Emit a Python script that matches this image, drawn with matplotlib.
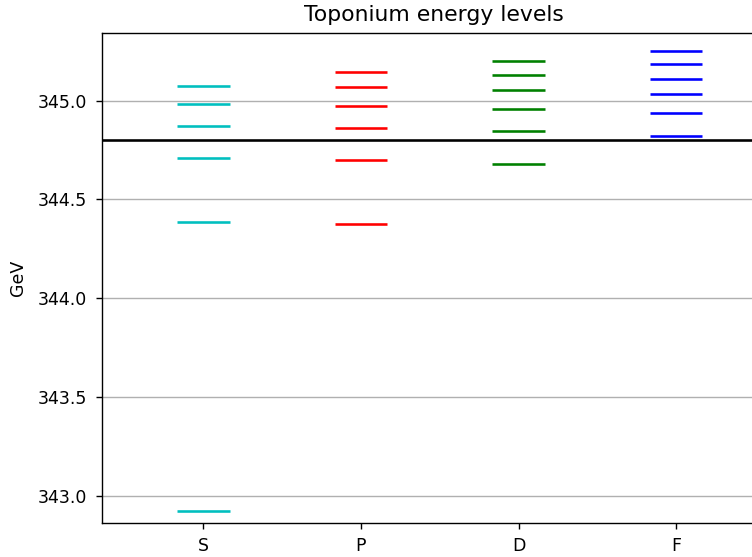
import matplotlib
matplotlib.use('Agg')
import matplotlib.pyplot as plt

# Toponium levels (GeV)
waves = ['S', 'P', 'D', 'F']
colors = ['c', 'r', 'g', 'b']
levels_S = [342.924, 344.384, 344.708, 344.870, 344.985, 345.076]
levels_P = [344.374, 344.700, 344.862, 344.975, 345.068, 345.147]
levels_D = [344.681, 344.845, 344.959, 345.053, 345.132, 345.203]
levels_F = [344.823, 344.939, 345.032, 345.111, 345.186, 345.252]
threshold = 344.801

levels = [levels_S, levels_P, levels_D, levels_F]

dpi = 125
fig = plt.figure(figsize=(752 / dpi, 557 / dpi), dpi=dpi)
ax = fig.add_axes([102 / 752, 1 - 523.3 / 557, (766 - 102) / 752, (523.3 - 32.7) / 557])

for i, (lv, c) in enumerate(zip(levels, colors)):
    ax.hlines(lv, i - 1 / 6, i + 1 / 6, colors=c, lw=1.5, zorder=3)

ax.axhline(threshold, color='k', lw=1.5, zorder=4)

ax.set_xticks(range(len(waves)))
ax.set_xticklabels(waves)
ax.set_xlim(-0.644, 3.571)
ax.set_ylim(342.860, 345.344)
ax.tick_params(axis='y', pad=5)
ax.tick_params(axis='x', pad=4.2)
ax.yaxis.grid(True)
ax.set_axisbelow(True)
ax.set_ylabel('GeV', labelpad=6)
ax.set_title('Toponium energy levels', fontsize=12.6, pad=7)

fig.savefig('out.png', dpi=dpi)
